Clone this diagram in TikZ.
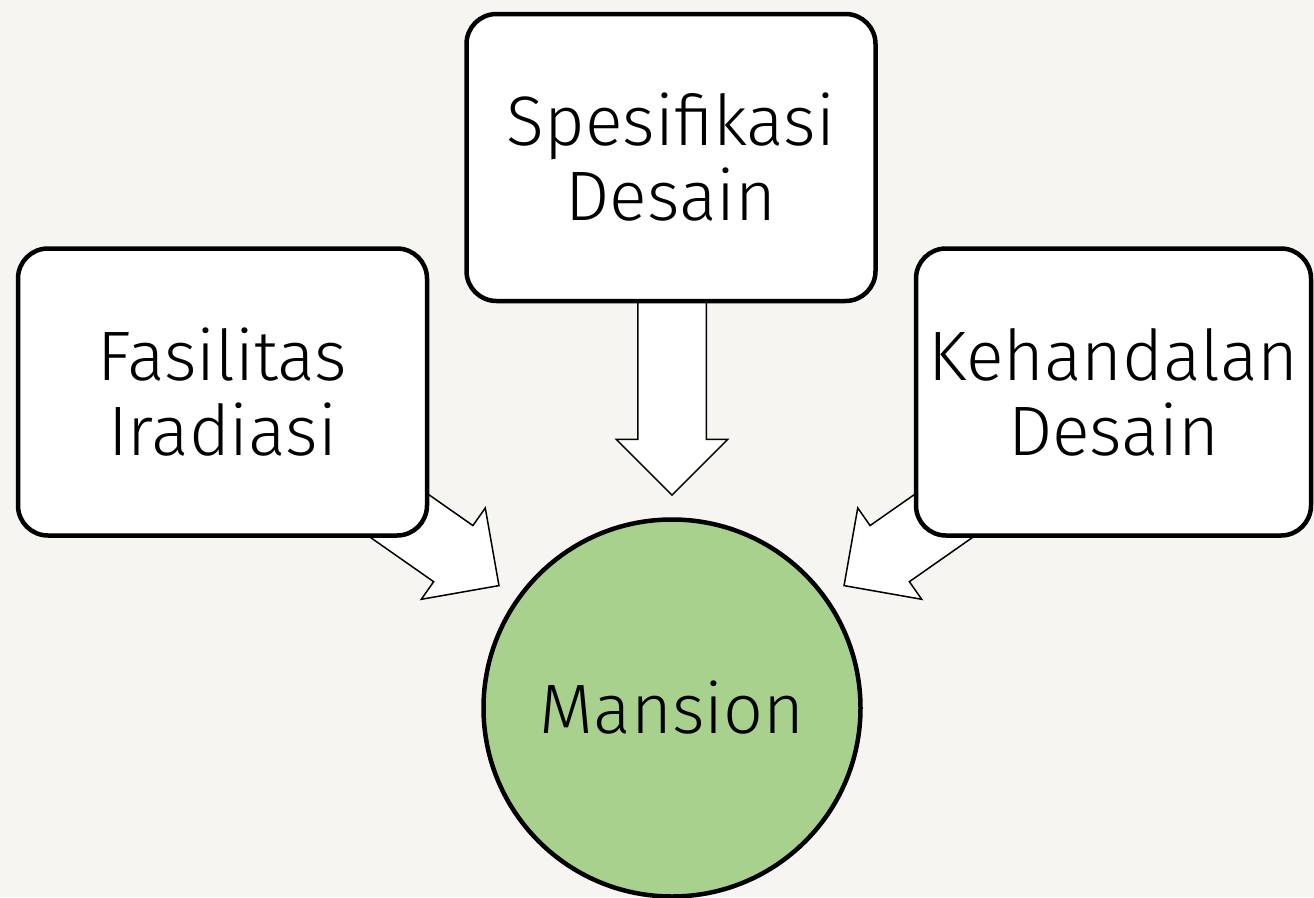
\documentclass[tikz,border=0pt]{standalone}
\usepackage{fontspec}
\setmainfont{Fira Sans Light}
\usetikzlibrary{shapes.arrows}
\definecolor{latar}{HTML}{F6F5F2}
\definecolor{hijau}{HTML}{A9D18E}
\tikzset{
  kotak/.style={draw=black,line width=4.5pt,fill=white,rounded corners=30pt,
    minimum width=409pt,minimum height=287pt,align=center,inner sep=0pt,
    font=\fontsize{70}{75}\selectfont},
  panah/.style={draw=black,line width=1.5pt,fill=white,single arrow,
    single arrow head extend=21.5pt,inner xsep=0pt,inner ysep=33.5pt,
    minimum height=191pt}
}
\begin{document}
\begin{tikzpicture}[x=1pt,y=-1pt]
\fill[latar](0,0)rectangle(1314,897);
\useasboundingbox(0,0)rectangle(1314,897);
\node[panah,rotate=-90,minimum height=204pt](arrSpek)at(672,376){};
\node[panah,rotate=-35](arrFasil)at(406.7,521){};
\node[panah,rotate=-145](arrKehand)at(936.3,521){};
\node[kotak](spek)at(671,157.5){Spesifikasi\\Desain};
\node[kotak](fasil)at(222.5,392){Fasilitas\\Iradiasi};
\node[kotak,minimum width=395pt](kehand)at(1113.5,392){Kehandalan\\Desain};
\node[circle,draw=black,line width=4.5pt,fill=hijau,minimum size=377pt,
  font=\fontsize{70}{75}\selectfont](mansion)at(672,708){Mansion};
\end{tikzpicture}
\end{document}
